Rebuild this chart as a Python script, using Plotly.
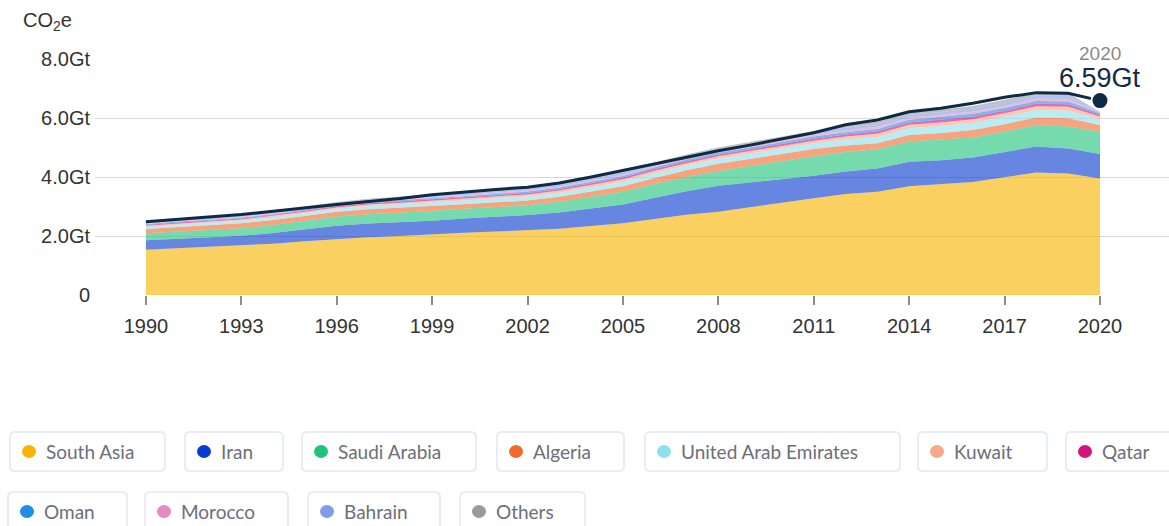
import plotly.graph_objects as go

# ---------------- data ----------------
years = list(range(1990, 2021))

south_asia = [1.53, 1.58, 1.63, 1.68, 1.74, 1.82, 1.90, 1.96, 2.00, 2.06, 2.11, 2.15, 2.20, 2.25, 2.34,
              2.43, 2.58, 2.72, 2.82, 2.98, 3.12, 3.28, 3.42, 3.50, 3.69, 3.75, 3.83, 3.99, 4.15, 4.12, 3.95]
iran = [0.33, 0.33, 0.33, 0.33, 0.36, 0.40, 0.45, 0.46, 0.46, 0.46, 0.48, 0.50, 0.51, 0.55, 0.60,
        0.64, 0.72, 0.80, 0.88, 0.84, 0.80, 0.76, 0.77, 0.79, 0.83, 0.82, 0.83, 0.85, 0.88, 0.85, 0.83]
saudi_arabia = [0.23, 0.24, 0.25, 0.25, 0.27, 0.29, 0.31, 0.32, 0.33, 0.33, 0.33, 0.33, 0.33, 0.36, 0.39,
                0.43, 0.46, 0.48, 0.50, 0.55, 0.61, 0.66, 0.66, 0.65, 0.68, 0.69, 0.68, 0.70, 0.73, 0.74, 0.76]
algeria = [0.15, 0.16, 0.16, 0.17, 0.17, 0.16, 0.16, 0.17, 0.17, 0.17, 0.16, 0.16, 0.16, 0.17, 0.18,
           0.19, 0.21, 0.23, 0.25, 0.25, 0.25, 0.25, 0.22, 0.20, 0.22, 0.23, 0.25, 0.25, 0.26, 0.28, 0.22]
uae = [0.07, 0.08, 0.08, 0.09, 0.09, 0.10, 0.10, 0.11, 0.11, 0.12, 0.12, 0.13, 0.14, 0.14, 0.15,
       0.15, 0.16, 0.16, 0.17, 0.17, 0.18, 0.19, 0.20, 0.22, 0.23, 0.24, 0.25, 0.25, 0.25, 0.26, 0.20]
kuwait = [0.04, 0.04, 0.04, 0.04, 0.05, 0.05, 0.05, 0.05, 0.06, 0.06, 0.06, 0.06, 0.07, 0.07, 0.07,
          0.08, 0.08, 0.08, 0.08, 0.09, 0.09, 0.09, 0.10, 0.11, 0.12, 0.12, 0.12, 0.12, 0.13, 0.13, 0.09]
qatar = [0.02, 0.03, 0.03, 0.03, 0.03, 0.03, 0.04, 0.04, 0.04, 0.04, 0.05, 0.05, 0.05, 0.05, 0.05,
         0.06, 0.06, 0.06, 0.06, 0.06, 0.07, 0.07, 0.07, 0.08, 0.08, 0.09, 0.09, 0.09, 0.09, 0.09, 0.06]
oman = [0.03, 0.03, 0.03, 0.03, 0.03, 0.04, 0.04, 0.04, 0.04, 0.04, 0.04, 0.05, 0.05, 0.05, 0.05,
        0.05, 0.06, 0.06, 0.06, 0.06, 0.07, 0.07, 0.08, 0.08, 0.09, 0.09, 0.09, 0.09, 0.09, 0.09, 0.05]
morocco = [0.02, 0.02, 0.02, 0.03, 0.03, 0.03, 0.03, 0.03, 0.03, 0.03, 0.04, 0.04, 0.04, 0.04, 0.04,
           0.05, 0.05, 0.05, 0.05, 0.05, 0.05, 0.06, 0.06, 0.07, 0.07, 0.07, 0.07, 0.07, 0.08, 0.08, 0.03]
bahrain = [0.03, 0.03, 0.04, 0.04, 0.04, 0.04, 0.04, 0.05, 0.05, 0.05, 0.05, 0.06, 0.06, 0.06, 0.06,
           0.07, 0.07, 0.07, 0.07, 0.07, 0.08, 0.08, 0.09, 0.09, 0.10, 0.10, 0.11, 0.11, 0.11, 0.11, 0.02]
others = [0.03, 0.02, 0.03, 0.03, 0.04, 0.03, 0.03, 0.03, 0.04, 0.05, 0.05, 0.04, 0.04, 0.06, 0.07,
          0.05, 0.04, 0.05, 0.06, 0.07, 0.06, 0.07, 0.08, 0.08, 0.08, 0.09, 0.09, 0.10, 0.09, 0.09, 0.00]
total = [2.48, 2.56, 2.64, 2.73, 2.84, 2.96, 3.07, 3.17, 3.27, 3.40, 3.50, 3.58, 3.65, 3.80, 4.00,
         4.22, 4.45, 4.68, 4.89, 5.08, 5.28, 5.50, 5.77, 5.93, 6.21, 6.33, 6.50, 6.70, 6.86, 6.84, 6.59]

series_names = ["South Asia", "Iran", "Saudi Arabia", "Algeria", "United Arab Emirates", "Kuwait",
                "Qatar", "Oman", "Morocco", "Bahrain", "Others"]
series_values = [south_asia, iran, saudi_arabia, algeria, uae, kuwait, qatar, oman, morocco, bahrain, others]
series_colors = ["#f7b500", "#0a3ccf", "#20c37a", "#f26a2e", "#8fe0ec", "#f9a98a",
                 "#d3157a", "#1f8fe6", "#e889bf", "#7f9ee6", "#9a9a9a"]

x_tickvals = [1990, 1993, 1996, 1999, 2002, 2005, 2008, 2011, 2014, 2017, 2020]
y_tickvals = [0, 2, 4, 6, 8]
y_ticktext = ["0", "2.0Gt", "4.0Gt", "6.0Gt", "8.0Gt"]

last_year_label = "2020"
last_value_label = "6.59Gt"

# ---------------- layout helpers ----------------
W, H = 1169, 526
ML, MR, MT, MB = 95, 0, 59, 231
PW = W - ML - MR
PH = H - MT - MB


def fx(px):
    return (px - ML) / PW


def fy(py):
    return (H - MB - py) / PH


def rgba(hexcol, a):
    h = hexcol.lstrip("#")
    r, g, b = int(h[0:2], 16), int(h[2:4], 16), int(h[4:6], 16)
    return f"rgba({r},{g},{b},{a})"


fig = go.Figure()

for name, vals, col in zip(series_names, series_values, series_colors):
    fig.add_trace(go.Scatter(
        x=years, y=vals, name=name, mode="lines", stackgroup="one",
        line=dict(width=0, color=col), fillcolor=rgba(col, 0.62),
        hoverinfo="skip", showlegend=False,
    ))

fig.add_trace(go.Scatter(
    x=years, y=total, mode="lines", line=dict(color="#0e2a45", width=3),
    showlegend=False, hoverinfo="skip",
))
fig.add_trace(go.Scatter(
    x=[years[-1]], y=[total[-1]], mode="markers",
    marker=dict(size=17, color="#0e2a45", line=dict(color="white", width=2)),
    showlegend=False, hoverinfo="skip", cliponaxis=False,
))

annotations = [
    dict(text="CO<sub>2</sub>e", xref="paper", yref="paper", x=fx(21), y=fy(21),
         xanchor="left", yanchor="middle", showarrow=False,
         font=dict(family="Liberation Sans, Arial", size=20, color="#333333")),
    dict(text=last_year_label, xref="x", yref="paper", x=years[-1], y=fy(53),
         xanchor="center", yanchor="middle", showarrow=False, bgcolor="white", borderpad=5,
         font=dict(family="Liberation Sans, Arial", size=19, color="#8a8a8a")),
    dict(text=last_value_label, xref="x", yref="paper", x=years[-1], y=fy(78),
         xanchor="center", yanchor="middle", showarrow=False,
         font=dict(family="Liberation Sans, Arial", size=27, color="#142b44")),
]

shapes = []

# legend boxes: (box_left, box_right, center_y)
legend_boxes = [
    (10, 165, 451.5), (185, 283, 451.5), (302, 476, 451.5), (497, 624, 451.5),
    (645, 900, 451.5), (918, 1047, 451.5), (1066, 1190, 451.5),
    (8, 127, 511.5), (145, 288, 511.5), (308, 440, 511.5), (460, 585, 511.5),
]


def rounded_path(w, h, r):
    a, b = w / 2, h / 2
    return (f"M {-a + r},{-b} L {a - r},{-b} Q {a},{-b} {a},{-b + r} "
            f"L {a},{b - r} Q {a},{b} {a - r},{b} L {-a + r},{b} Q {-a},{b} {-a},{b - r} "
            f"L {-a},{-b + r} Q {-a},{-b} {-a + r},{-b} Z")


for (bl, br, cy), name, col in zip(legend_boxes, series_names, series_colors):
    cx = (bl + br) / 2
    shapes.append(dict(
        type="path", xref="paper", yref="paper", xsizemode="pixel", ysizemode="pixel",
        xanchor=fx(cx), yanchor=fy(cy), path=rounded_path(br - bl, 39, 5),
        line=dict(color="#e9ecf4", width=2), fillcolor="white", layer="below",
    ))
    dot_x = bl + 19
    shapes.append(dict(
        type="circle", xref="paper", yref="paper", xsizemode="pixel", ysizemode="pixel",
        xanchor=fx(dot_x), yanchor=fy(cy), x0=-7, x1=7, y0=-6.5, y1=6.5,
        line=dict(width=0), fillcolor=col,
    ))
    annotations.append(dict(
        text=name, xref="paper", yref="paper", x=fx(bl + 34), y=fy(cy),
        xanchor="left", yanchor="middle", showarrow=False,
        font=dict(family="Lato", size=19, color="#6b6f78"),
    ))

fig.update_layout(
    width=W, height=H,
    margin=dict(l=ML, r=MR, t=MT, b=MB),
    paper_bgcolor="white", plot_bgcolor="white",
    showlegend=False,
    xaxis=dict(range=[1988.4, 2022.17], tickvals=x_tickvals, showgrid=False, zeroline=False,
               showline=False, ticks="outside", ticklen=9, tickwidth=2, tickcolor="#8c8c8c",
               ticklabelstandoff=4,
               tickfont=dict(family="Liberation Sans, Arial", size=20, color="#333333")),
    yaxis=dict(range=[0, 8.0], tickvals=y_tickvals, ticktext=y_ticktext, showgrid=True,
               gridcolor="#d9d9d9", gridwidth=1, zeroline=False, showline=False,
               ticklabelstandoff=4,
               tickfont=dict(family="Liberation Sans, Arial", size=20, color="#333333")),
    annotations=annotations,
    shapes=shapes,
)

fig.write_html("out.html", config={"displayModeBar": False},
               post_script="document.body.style.margin='0';")
